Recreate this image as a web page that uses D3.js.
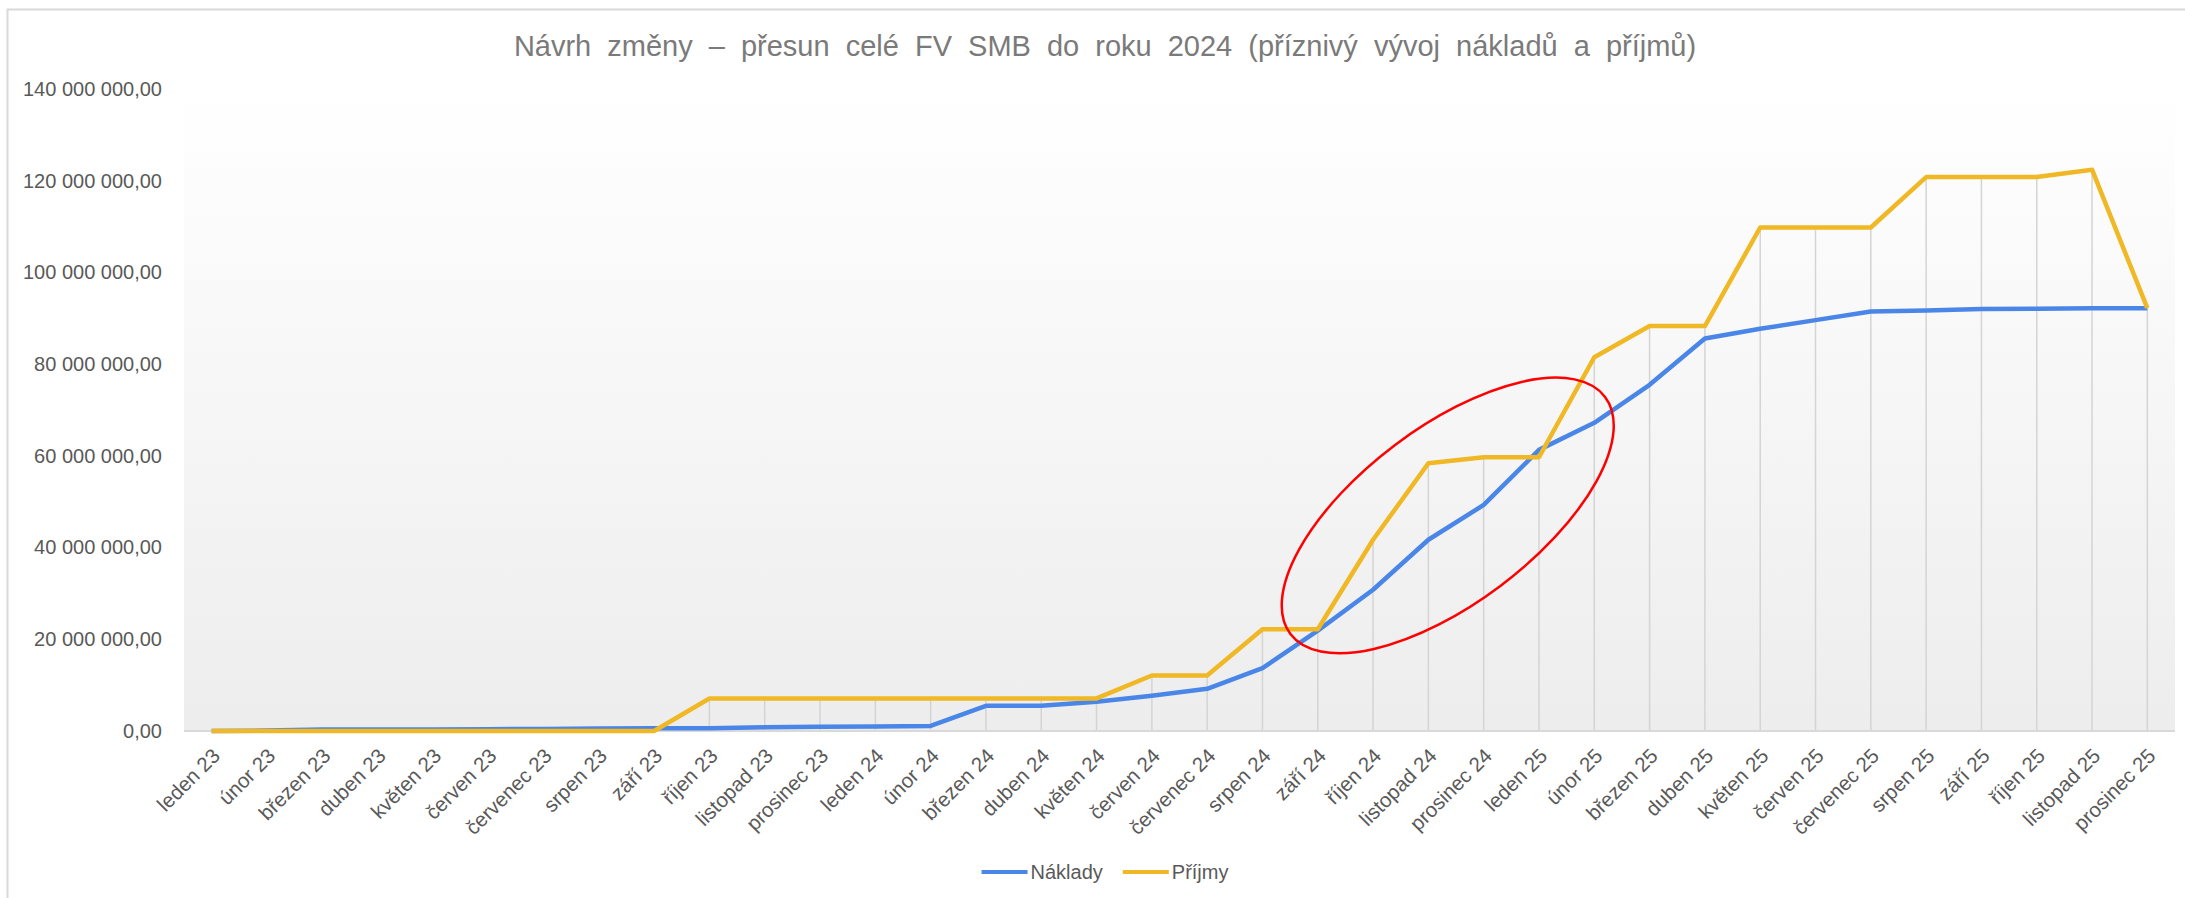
<!DOCTYPE html>
<html>
<head>
<meta charset="utf-8">
<script src="https://cdn.jsdelivr.net/npm/d3@7"></script>
<style>
body { margin: 0; background: #fff; }
svg { display: block; font-family: 'Liberation Sans', Arial, sans-serif; }
</style>
</head>
<body>
<div id="chart"></div>
<script>
const title = 'Návrh změny – přesun celé FV SMB do roku 2024 (příznivý vývoj nákladů a příjmů)';

const months = ['leden 23', 'únor 23', 'březen 23', 'duben 23', 'květen 23', 'červen 23',
    'červenec 23', 'srpen 23', 'září 23', 'říjen 23', 'listopad 23', 'prosinec 23',
    'leden 24', 'únor 24', 'březen 24', 'duben 24', 'květen 24', 'červen 24',
    'červenec 24', 'srpen 24', 'září 24', 'říjen 24', 'listopad 24', 'prosinec 24',
    'leden 25', 'únor 25', 'březen 25', 'duben 25', 'květen 25', 'červen 25',
    'červenec 25', 'srpen 25', 'září 25', 'říjen 25', 'listopad 25', 'prosinec 25'];

// Náklady (costs), CZK
const naklady = [0, 100000, 300000, 300000, 350000, 400000,
    450000, 550000, 600000, 600000, 800000, 900000,
    1000000, 1100000, 5500000, 5500000, 6400000, 7700000,
    9200000, 13700000, 21900000, 30800000, 41700000, 49300000,
    61300000, 67200000, 75500000, 85600000, 87700000, 89600000,
    91500000, 91700000, 92000000, 92100000, 92200000, 92200000];

// Příjmy (income), CZK
const prijmy = [0, 0, 0, 0, 0, 0,
    0, 0, 0, 7100000, 7100000, 7100000,
    7100000, 7100000, 7100000, 7100000, 7100000, 12100000,
    12100000, 22200000, 22200000, 41700000, 58400000, 59700000,
    59700000, 81500000, 88300000, 88300000, 109800000, 109800000,
    109800000, 120800000, 120800000, 120800000, 122400000, 92200000];

const seriesNames = ['Náklady', 'Příjmy'];
const seriesColors = ['#4a86e8', '#f1b825'];
const yTicks = [0, 20000000, 40000000, 60000000, 80000000, 100000000, 120000000, 140000000];

// red ellipse drawn by hand over the chart (position in category index / value)
const highlight = { at: 22.35, value: 47000000, rx: 197, ry: 88, angle: -37 };

const czFormat = d3.formatLocale({
    decimal: ',', thousands: ' ', grouping: [3], currency: ['', ' Kč']
}).format(',.2f');

function drawChart() {
    const width = 2185, height = 898;
    const left = 184, right = 2175, top = 89, bottom = 731;

    const svg = d3.select('#chart')
        .append('svg')
        .attr('width', width)
        .attr('height', height);

    // chart frame
    svg.append('rect')
        .attr('x', 7.5).attr('y', 9.5)
        .attr('width', 2200).attr('height', 900)
        .attr('fill', '#fff')
        .attr('stroke', '#d9d9d9')
        .attr('stroke-width', 2);

    const grad = svg.append('defs').append('linearGradient')
        .attr('id', 'plotBg')
        .attr('x1', 0).attr('y1', 0).attr('x2', 0).attr('y2', 1);
    grad.append('stop').attr('offset', '0%').attr('stop-color', '#ffffff');
    grad.append('stop').attr('offset', '100%').attr('stop-color', '#ededed');

    const x = d3.scalePoint()
        .domain(months)
        .range([left, right])
        .padding(0.5);

    const y = d3.scaleLinear()
        .domain([0, 140000000])
        .range([bottom, top]);

    svg.append('rect')
        .attr('x', left).attr('y', top)
        .attr('width', right - left).attr('height', bottom - top)
        .attr('fill', 'url(#plotBg)');

    svg.append('text')
        .attr('x', 1105)
        .attr('y', 46)
        .attr('dy', '0.35em')
        .attr('text-anchor', 'middle')
        .attr('fill', '#7a7a7a')
        .attr('font-size', 29)
        .attr('word-spacing', 8)
        .text(title);

    // y axis labels
    const yAxis = svg.append('g')
        .attr('transform', 'translate(' + (left - 19) + ',0)')
        .call(d3.axisLeft(y).tickValues(yTicks).tickSize(0).tickFormat(czFormat));
    yAxis.select('.domain').remove();
    yAxis.selectAll('text')
        .attr('font-size', 20)
        .attr('font-family', null)
        .attr('fill', '#595959');

    // drop lines
    svg.append('g')
        .selectAll('line')
        .data(months)
        .enter()
        .append('line')
        .attr('x1', d => x(d))
        .attr('x2', d => x(d))
        .attr('y1', (d, i) => y(Math.max(naklady[i], prijmy[i])))
        .attr('y2', y(0))
        .attr('stroke', '#d4d4d4')
        .attr('stroke-width', 1.5);

    // x axis
    svg.append('line')
        .attr('x1', left).attr('x2', right)
        .attr('y1', y(0)).attr('y2', y(0))
        .attr('stroke', '#d9d9d9')
        .attr('stroke-width', 2);

    const xAxis = svg.append('g')
        .attr('transform', 'translate(0,' + y(0) + ')')
        .call(d3.axisBottom(x).tickSize(0));
    xAxis.select('.domain').remove();
    xAxis.selectAll('text')
        .attr('font-size', 20.5)
        .attr('font-family', null)
        .attr('fill', '#595959')
        .attr('text-anchor', 'end')
        .attr('x', 0).attr('y', 0).attr('dy', '0.35em')
        .attr('transform', 'translate(4,21) rotate(-45)');

    // series
    const line = d3.line()
        .x((d, i) => x(months[i]))
        .y(d => y(d));

    [naklady, prijmy].forEach((values, s) => {
        svg.append('path')
            .datum(values)
            .attr('fill', 'none')
            .attr('stroke', seriesColors[s])
            .attr('stroke-width', 4.5)
            .attr('stroke-linejoin', 'round')
            .attr('d', line);
    });

    // highlight ellipse
    const hx = x(months[0]) + highlight.at * x.step();
    const hy = y(highlight.value);
    svg.append('ellipse')
        .attr('transform', 'translate(' + hx + ',' + hy + ') rotate(' + highlight.angle + ')')
        .attr('rx', highlight.rx)
        .attr('ry', highlight.ry)
        .attr('fill', 'none')
        .attr('stroke', '#ff0000')
        .attr('stroke-width', 2.5);

    // legend
    const legend = svg.append('g').attr('font-size', 20);
    const items = legend.selectAll('g')
        .data(seriesNames)
        .enter()
        .append('g');
    items.append('line')
        .attr('x1', 0).attr('x2', 46)
        .attr('y1', 0).attr('y2', 0)
        .attr('stroke', (d, i) => seriesColors[i])
        .attr('stroke-width', 4);
    items.append('text')
        .attr('x', 49)
        .attr('dy', '0.35em')
        .attr('fill', '#595959')
        .text(d => d);

    let offset = 0;
    const widths = [];
    items.each(function () {
        widths.push(this.getBBox().width);
    });
    const total = d3.sum(widths) + 20 * (widths.length - 1);
    items.attr('transform', (d, i) => {
        const pos = offset;
        offset += widths[i] + 20;
        return 'translate(' + (1105 - total / 2 + pos) + ',872)';
    });
}

drawChart();
</script>
</body>
</html>
